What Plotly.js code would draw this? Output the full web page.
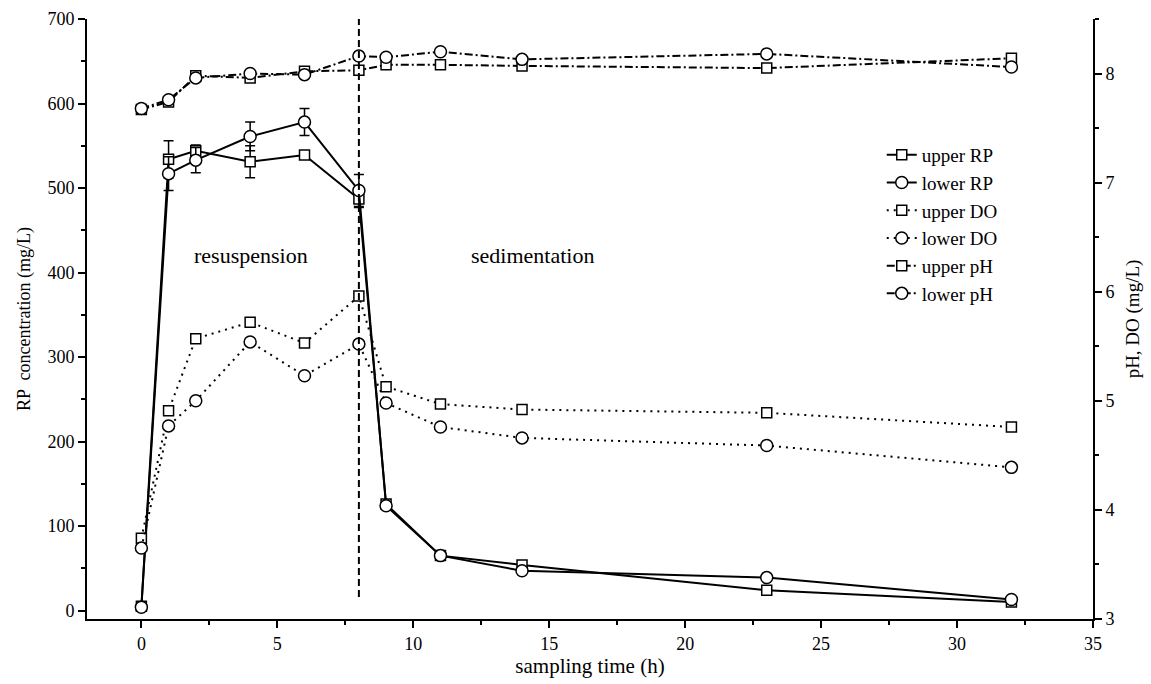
<!DOCTYPE html>
<html>
<head>
<meta charset="utf-8">
<script src="https://cdn.plot.ly/plotly-3.0.1.min.js"></script>
<style>
  html, body { margin: 0; padding: 0; background: #ffffff; }
  #chart { width: 1151px; height: 684px; }
</style>
</head>
<body>
<div id="chart"></div>
<script>
// sampling time (h)
const time = [0, 1, 2, 4, 6, 8, 9, 11, 14, 23, 32];

// RP concentration (mg/L), left axis
const upperRP = [5, 534, 544, 531, 539, 487, 126, 65, 54, 24, 10];
const upperRPErr = [2, 22, 7, 19, 4, 10, 3, 3, 3, 2, 2];
const lowerRP = [4, 517, 533, 561, 578, 497, 124, 65, 47, 39, 13];
const lowerRPErr = [2, 20, 15, 17, 16, 19, 3, 3, 3, 3, 3];

// DO (mg/L), right axis
const upperDO = [3.74, 4.91, 5.57, 5.72, 5.53, 5.96, 5.13, 4.97, 4.92, 4.89, 4.76];
const lowerDO = [3.65, 4.77, 5.00, 5.54, 5.23, 5.52, 4.98, 4.76, 4.66, 4.59, 4.39];

// pH, right axis
const upperPH = [7.67, 7.74, 7.98, 7.96, 8.02, 8.03, 8.08, 8.08, 8.07, 8.05, 8.14];
const lowerPH = [7.68, 7.76, 7.96, 8.00, 7.99, 8.16, 8.15, 8.20, 8.13, 8.18, 8.06];

// phase boundary and labels
const phaseBoundary = 8;
const phaseLabels = ["resuspension", "sedimentation"];
const phaseLabelX = [4.05, 14.4];
const phaseLabelY = [420, 420];

const FONT = "Liberation Serif, Times New Roman, serif";
const sq = {symbol: "square", size: 10, color: "#ffffff", line: {color: "#000", width: 1.5}};
const ci = {symbol: "circle", size: 12, color: "#ffffff", line: {color: "#000", width: 1.5}};
const DOT = "2px,5px";
const DASHDOT = "8px,3px,2px,3px";

const traces = [
  {x: time, y: upperRP, name: "upper RP", mode: "lines+markers", yaxis: "y",
   line: {color: "#000", width: 2}, marker: sq,
   error_y: {type: "data", array: upperRPErr, visible: true, color: "#000", thickness: 1.5, width: 5}},
  {x: time, y: lowerRP, name: "lower RP", mode: "lines+markers", yaxis: "y",
   line: {color: "#000", width: 2}, marker: ci,
   error_y: {type: "data", array: lowerRPErr, visible: true, color: "#000", thickness: 1.5, width: 5}},
  {x: time, y: upperDO, name: "upper DO", mode: "lines+markers", yaxis: "y2",
   line: {color: "#000", width: 2, dash: DOT}, marker: sq},
  {x: time, y: lowerDO, name: "lower DO", mode: "lines+markers", yaxis: "y2",
   line: {color: "#000", width: 2, dash: DOT}, marker: ci},
  {x: time, y: upperPH, name: "upper pH", mode: "lines+markers", yaxis: "y2",
   line: {color: "#000", width: 2, dash: DASHDOT}, marker: sq},
  {x: time, y: lowerPH, name: "lower pH", mode: "lines+markers", yaxis: "y2",
   line: {color: "#000", width: 2, dash: DASHDOT}, marker: ci}
];

const axisCommon = {
  showgrid: false, zeroline: false, showline: true, linecolor: "#000", linewidth: 2,
  ticks: "outside", ticklen: 7, tickwidth: 1.5, tickcolor: "#000",
  tickfont: {family: FONT, size: 18, color: "#000"}
};

const layout = {
  width: 1151, height: 684,
  margin: {l: 87, r: 58, t: 19, b: 65},
  paper_bgcolor: "#ffffff", plot_bgcolor: "#ffffff",
  font: {family: FONT, color: "#000"},
  showlegend: true,
  legend: {x: 0.79, y: 0.805, xanchor: "left", yanchor: "top",
           bgcolor: "rgba(0,0,0,0)", font: {family: FONT, size: 19, color: "#000"}},
  xaxis: Object.assign({}, axisCommon, {
    range: [-2, 35], dtick: 5, tick0: 0,
    minor: {dtick: 2.5, ticks: "outside", ticklen: 4, tickcolor: "#000", tickwidth: 1.5},
    title: {text: "sampling time (h)", font: {family: FONT, size: 21, color: "#000"}, standoff: 6}
  }),
  yaxis: Object.assign({}, axisCommon, {
    range: [-10, 700], dtick: 100, tick0: 0,
    minor: {dtick: 50, ticks: "outside", ticklen: 4, tickcolor: "#000", tickwidth: 1.5},
    title: {text: "RP  concentration (mg/L)", font: {family: FONT, size: 18, color: "#000"}, standoff: 12}
  }),
  yaxis2: Object.assign({}, axisCommon, {
    overlaying: "y", side: "right",
    range: [3, 8.5], dtick: 1, tick0: 3,
    minor: {dtick: 0.5, ticks: "outside", ticklen: 4, tickcolor: "#000", tickwidth: 1.5},
    title: {text: "pH, DO (mg/L)", font: {family: FONT, size: 19, color: "#000"}, standoff: 12}
  }),
  shapes: [
    {type: "line", xref: "x", yref: "y", x0: phaseBoundary, x1: phaseBoundary, y0: 16, y1: 700,
     line: {color: "#000", width: 2, dash: "7px,4px"}}
  ],
  annotations: phaseLabels.map((t, i) => ({
    text: t, x: phaseLabelX[i], y: phaseLabelY[i], xref: "x", yref: "y",
    showarrow: false, font: {family: FONT, size: 22, color: "#000"}
  }))
};

Plotly.newPlot("chart", traces, layout, {displayModeBar: false, responsive: false});
</script>
</body>
</html>
